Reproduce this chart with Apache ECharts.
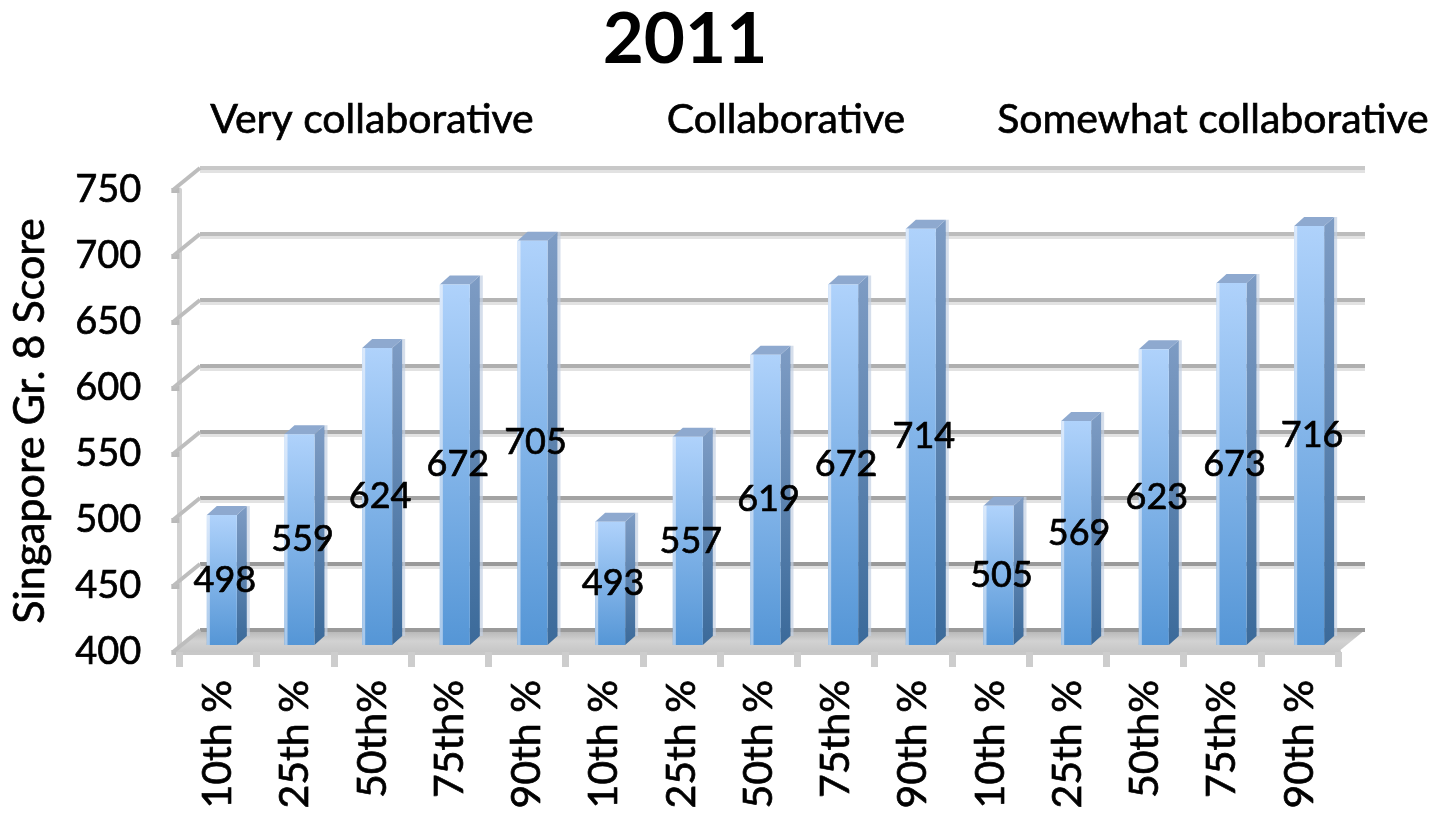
<!DOCTYPE html>
<html>
<head>
<meta charset="utf-8">
<script src="https://cdn.jsdelivr.net/npm/echarts@6/dist/echarts.min.js"></script>
<style>
  html, body { margin: 0; padding: 0; background: #ffffff; }
  #chart { width: 1450px; height: 817px; }
</style>
</head>
<body>
<div id="chart"></div>
<script>
// ---- data ----
const chartTitle = '2011';
const groupNames = ['Very collaborative', 'Collaborative', 'Somewhat collaborative'];
const categories = ['10th %', '25th %', '50th%', '75th%', '90th %',
                    '10th %', '25th %', '50th %', '75th%', '90th %',
                    '10th %', '25th %', '50th%', '75th%', '90th %'];
const scores = [498, 559, 624, 672, 705, 493, 557, 619, 672, 714, 505, 569, 623, 673, 716];
const yTicks = [400, 450, 500, 550, 600, 650, 700, 750];
const yMin = 400, yMax = 750, yStep = 50;

// ---- layout (3D look: back wall, bar plane, front plane) ----
const DEPTH_X = 27, DEPTH_Y = -22;
const front = { left: 173, top: 190, width: 1165, height: 462 };
const back  = { left: front.left + DEPTH_X, top: front.top + DEPTH_Y, width: 1165, height: 462 };
const bars  = { left: 183, top: 181, width: 1165, height: 464 };
const FONT = 'Lato, "Open Sans", sans-serif';
const INK = { color: '#000', textBorderColor: '#000', textBorderWidth: 0.7 };

// wall gridline colours, from floor (400) to top (750)
const wallColors = ['#9a9a9a', '#999999', '#a3a3a3', '#a9a9a9', '#afafaf', '#b4b4b4', '#bcbcbc', '#c8c8c8'];

const chart = echarts.init(document.getElementById('chart'), null, { renderer: 'canvas' });

function hiddenCat(i) {
  return { type: 'category', gridIndex: i, data: categories, show: false, boundaryGap: true };
}
function hiddenVal(i) {
  return { type: 'value', gridIndex: i, min: yMin, max: yMax, interval: yStep, show: false, splitLine: { show: false } };
}

// back wall gridlines, floor and the diagonal links to the front axis
function renderWall(params, api) {
  const cs = params.coordSys;
  const v = api.value(1);
  const y = api.coord([0, v])[1];
  const idx = params.dataIndex;
  const children = [];
  if (v === yMin) {
    children.push({
      type: 'polygon',
      shape: { points: [[cs.x, y], [cs.x + cs.width, y], [cs.x + cs.width - DEPTH_X, y - DEPTH_Y], [cs.x - DEPTH_X, y - DEPTH_Y]] },
      style: { fill: new echarts.graphic.LinearGradient(0, 0, 0, 1, [
        { offset: 0, color: '#b4b4b4' }, { offset: 0.5, color: '#d2d2d2' }, { offset: 1, color: '#c6c6c6' }]) }
    });
  } else {
    children.push({
      type: 'line',
      shape: { x1: cs.x, y1: y + 3.5, x2: cs.x + cs.width, y2: y + 3.5 },
      style: { stroke: '#e2e2e2', lineWidth: 3 }
    });
  }
  children.push({
    type: 'line',
    shape: { x1: cs.x, y1: y, x2: cs.x + cs.width, y2: y },
    style: { stroke: wallColors[idx], lineWidth: 4 }
  });
  children.push({
    type: 'line',
    shape: { x1: cs.x, y1: y, x2: cs.x - DEPTH_X, y2: y - DEPTH_Y },
    style: { stroke: '#bdbdbd', lineWidth: 4 }
  });
  return { type: 'group', children: children };
}

// 3D column: front face, side face, top face and centred value label
function renderBar(params, api) {
  const i = api.value(0), v = api.value(1);
  const topPt = api.coord([i, v]);
  const basePt = api.coord([i, yMin]);
  const fw = api.size([1, 0])[0] * 0.386;
  const dx = 10, dy = -9;
  const x0 = topPt[0] - fw / 2, x1 = topPt[0] + fw / 2;
  const yt = topPt[1], yb = basePt[1];
  return {
    type: 'group',
    children: [
      { type: 'rect', shape: { x: x1 + dx, y: yt + dy, width: 3, height: yb - yt },
        style: { fill: '#c3d0e2', opacity: 0.7 } },
      { type: 'polygon', shape: { points: [[x1, yt], [x1 + dx, yt + dy], [x1 + dx, yb + dy], [x1, yb]] },
        style: { fill: new echarts.graphic.LinearGradient(0, 0, 0, 1, [
          { offset: 0, color: '#7e9cc4' }, { offset: 1, color: '#3b6a9a' }]) } },
      { type: 'polygon', shape: { points: [[x0, yt], [x1, yt], [x1 + dx, yt + dy], [x0 + dx, yt + dy]] },
        style: { fill: '#8ea9cf' } },
      { type: 'rect', shape: { x: x0, y: yt, width: fw, height: yb - yt },
        style: { fill: new echarts.graphic.LinearGradient(0, 0, 0, 1, [
          { offset: 0, color: '#afd2fb' }, { offset: 1, color: '#5596d6' }]) } },
      { type: 'rect', shape: { x: x0, y: yt, width: 3, height: yb - yt },
        style: { fill: new echarts.graphic.LinearGradient(0, 0, 0, 1, [
          { offset: 0, color: '#dbe9fb' }, { offset: 1, color: '#a8c8ea' }]) } },
      { type: 'text', x: topPt[0] + 3, y: (yt + yb) / 2,
        style: { text: String(v), fill: '#000', stroke: '#000', lineWidth: 0.7,
                 font: '36px ' + FONT, textAlign: 'center', textVerticalAlign: 'middle' } }
    ]
  };
}

const groupCenters = [372, 786, 1213];

chart.setOption({
  animation: false,
  backgroundColor: '#ffffff',
  grid: [
    { left: back.left, top: back.top, width: back.width, height: back.height },
    { left: front.left, top: front.top, width: front.width, height: front.height },
    { left: bars.left, top: bars.top, width: bars.width, height: bars.height }
  ],
  xAxis: [
    hiddenCat(0),
    {
      type: 'category', gridIndex: 1, data: categories, boundaryGap: true,
      axisLine: { show: true, lineStyle: { color: '#c8c8c8', width: 6 } },
      axisTick: { show: true, length: 15, lineStyle: { color: '#cdcdcd', width: 7 } },
      axisLabel: Object.assign({ rotate: 90, interval: 0, margin: 28, fontSize: 41, fontFamily: FONT }, INK)
    },
    hiddenCat(2)
  ],
  yAxis: [
    hiddenVal(0),
    {
      type: 'value', gridIndex: 1, min: yMin, max: yMax, interval: yStep,
      name: 'Singapore Gr. 8 Score', nameLocation: 'middle', nameRotate: 90, nameGap: 128,
      nameTextStyle: Object.assign({ fontSize: 43, fontFamily: FONT }, INK),
      axisLine: { show: true, lineStyle: { color: '#d2d2d2', width: 5 } },
      axisTick: { show: true, length: 8, lineStyle: { color: '#b9b9b9', width: 5 } },
      axisLabel: Object.assign({ margin: 38, fontSize: 38, fontFamily: FONT }, INK),
      splitLine: { show: false }
    },
    hiddenVal(2)
  ],
  graphic: [
    { type: 'text', x: 685, y: 40, style: { text: chartTitle, fill: '#000', font: 'bold 71px ' + FONT, textAlign: 'center', textVerticalAlign: 'middle' } }
  ].concat(groupNames.map((g, k) => ({
    type: 'text', x: groupCenters[k], y: 120,
    style: { text: g, fill: '#000', stroke: '#000', lineWidth: 0.7, font: '41px ' + FONT, textAlign: 'center', textVerticalAlign: 'middle' }
  }))),
  series: [
    {
      type: 'custom', name: 'wall', xAxisIndex: 0, yAxisIndex: 0, z: 1,
      data: yTicks.map(v => [0, v]),
      renderItem: renderWall
    },
    {
      type: 'custom', name: 'score', xAxisIndex: 2, yAxisIndex: 2, z: 5,
      data: scores.map((s, i) => [i, s]),
      renderItem: renderBar
    }
  ]
});
</script>
</body>
</html>
